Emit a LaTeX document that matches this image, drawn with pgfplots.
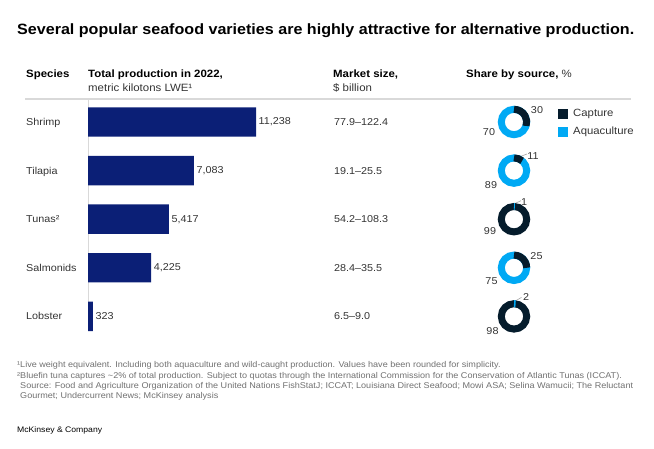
\documentclass[border=0pt]{standalone}
\usepackage{pgfplots}
\usepackage{pgfplotstable}
\pgfplotsset{compat=1.18}
\usepackage{fontspec}
\setmainfont{Liberation Sans}[FakeStretch=1.08]

\definecolor{navy}{HTML}{0B1F76}
\definecolor{capt}{HTML}{051C2C}
\definecolor{aqua}{HTML}{00A9F4}
\definecolor{txt}{HTML}{333333}
\definecolor{note}{HTML}{707070}

\pgfplotstableread{
row prod
0 11238
1 7083
2 5417
3 4225
4 323
}\prodtab

\pgfplotstableread{
row x   cap aqua
0   514 30  70
1   514 11  89
2   514 99  1
3   514 25  75
4   514 98  2
}\sharetab

% donut: ring in the colour of the larger share, arc from 12 o'clock for the smaller one
\pgfdeclareplotmark{donut}{%
  \pgfsetlinewidth{7pt}%
  \pgfsetbuttcap
  \ifdim\capv pt<50pt
    \def\ringcol{aqua}\def\segcol{capt}\let\segval\capv
  \else
    \def\ringcol{capt}\def\segcol{aqua}\let\segval\aquav
  \fi
  \pgfsetstrokecolor{\ringcol}%
  \pgfpathcircle{\pgfpointorigin}{12.7pt}%
  \pgfusepath{stroke}%
  \pgfmathsetmacro\endang{90-3.6*\segval}%
  \pgfsetstrokecolor{\segcol}%
  \pgfpathmoveto{\pgfpointpolar{90}{12.7pt}}%
  \pgfpatharc{90}{\endang}{12.7pt}%
  \pgfusepath{stroke}%
}

\newcommand{\hd}{\fontsize{10.6}{12}\selectfont}
\newcommand{\rw}{\fontsize{10}{12}\selectfont}

\begin{document}
\begin{tikzpicture}
\useasboundingbox (0pt,0pt) rectangle (654pt,-449pt);

% title and headers
\node[anchor=base west, inner sep=0pt] at (17pt,-35pt) {\fontsize{14.9}{17}\selectfont\bfseries Several popular seafood varieties are highly attractive for alternative production.};
\node[anchor=base west, inner sep=0pt] at (26pt,-78pt) {\hd\bfseries Species};
\node[anchor=base west, inner sep=0pt] at (88pt,-78pt) {\hd\bfseries Total production in 2022,};
\node[anchor=base west, inner sep=0pt, text=txt] at (88pt,-91.5pt) {\hd metric kilotons LWE¹};
\node[anchor=base west, inner sep=0pt] at (333pt,-78pt) {\hd\bfseries Market size,};
\node[anchor=base west, inner sep=0pt, text=txt] at (333pt,-91.5pt) {\hd \$ billion};
\node[anchor=base west, inner sep=0pt] at (466pt,-78pt) {\hd\bfseries Share by source, {\mdseries\color{txt}\%}};
\draw[black!15, line width=1.5pt] (25pt,-99pt) -- (631pt,-99pt);

% rows: species and market size
\foreach \yy/\sp/\ms in {122/Shrimp/77.9--122.4, 170.6/Tilapia/19.1--25.5, 219.2/Tunas²/54.2--108.3, 267.8/Salmonids/28.4--35.5, 316.4/Lobster/6.5--9.0}{
  \node[anchor=base west, inner sep=0pt, text=txt] at (26pt,-\yy pt-3.6pt) {\rw \sp};
  \node[anchor=base west, inner sep=0pt, text=txt] at (334pt,-\yy pt-3.6pt) {\rw \ms};
}

% bars
\begin{axis}[
  at={(88pt,-97.7pt)}, anchor=north west,
  x=0.0149493pt, y=48.6pt, y dir=reverse,
  xmin=0, xmax=12000, ymin=-0.5, ymax=4.5,
  enlargelimits=false,
  axis lines=none, clip=false,
  xbar, bar width=29.4pt,
  nodes near coords,
  nodes near coords style={font=\rw, anchor=west, inner sep=2.5pt, text=txt},
  /pgf/number format/1000 sep={,},
  /pgf/number format/assume math mode=true,
]
\draw[black!15, line width=1pt] (axis cs:0,-0.45) -- (axis cs:0,4.3);
\addplot[fill=navy, draw=none] table[x=prod, y=row] {\prodtab};
\end{axis}

% donuts
\begin{axis}[
  at={(400pt,-97.7pt)}, anchor=north west,
  x=1pt, y=48.6pt, y dir=reverse,
  xmin=400, xmax=654, ymin=-0.5, ymax=4.5,
  enlargelimits=false,
  axis lines=none, clip=false,
]
\addplot[only marks, mark=donut,
  visualization depends on={\thisrow{cap} \as \capv},
  visualization depends on={\thisrow{aqua} \as \aquav},
] table[x=x, y=row] {\sharetab};
% leader lines for thin segments
\draw[black!35, line width=0.6pt] (axis cs:519,1) ++(0pt,13.6pt) -- ++(8pt,3pt);
\draw[black!35, line width=0.6pt] (axis cs:515.5,2) ++(0pt,16pt) -- ++(5.5pt,2.5pt);
\draw[black!35, line width=0.6pt] (axis cs:515.5,4) ++(0pt,15.5pt) -- ++(6pt,3.5pt);
\tikzset{lab/.style={inner sep=0pt, text=txt, font=\rw}}
\node[lab] at (axis cs:537,0) [yshift=12pt] {30};
\node[lab] at (axis cs:489,0) [yshift=-10pt] {70};
\node[lab] at (axis cs:533,1) [yshift=14.6pt] {11};
\node[lab] at (axis cs:491,1) [yshift=-14.4pt] {89};
\node[lab] at (axis cs:524,2) [yshift=17pt] {1};
\node[lab] at (axis cs:490,2) [yshift=-12pt] {99};
\node[lab] at (axis cs:536.5,3) [yshift=12pt] {25};
\node[lab] at (axis cs:491.5,3) [yshift=-13pt] {75};
\node[lab] at (axis cs:526,4) [yshift=19.4pt] {2};
\node[lab] at (axis cs:492.5,4) [yshift=-14.6pt] {98};
\end{axis}

% legend
\fill[capt] (557.5pt,-109pt) rectangle (567.5pt,-119pt);
\node[anchor=west, inner sep=0pt, text=txt] at (573pt,-114pt) {\fontsize{10.5}{12}\selectfont Capture};
\fill[aqua] (557.5pt,-127pt) rectangle (567.5pt,-137pt);
\node[anchor=west, inner sep=0pt, text=txt] at (573pt,-132pt) {\fontsize{10.5}{12}\selectfont Aquaculture};

% footnotes
\begin{scope}[every node/.style={anchor=base west, inner sep=0pt, text=note, font=\fontsize{8.4}{10}\selectfont}]
\node at (17pt,-367.5pt) {¹Live weight equivalent. Including both aquaculture and wild-caught production. Values have been rounded for simplicity.};
\node at (17pt,-378pt) {²Bluefin tuna captures {\textasciitilde}2\% of total production. Subject to quotas through the International Commission for the Conservation of Atlantic Tunas (ICCAT).};
\node at (20pt,-388.5pt) {Source: Food and Agriculture Organization of the United Nations FishStatJ; ICCAT; Louisiana Direct Seafood; Mowi ASA; Selina Wamucii; The Reluctant};
\node at (20pt,-399pt) {Gourmet; Undercurrent News; McKinsey analysis};
\end{scope}
\node[anchor=base west, inner sep=0pt] at (17pt,-432pt) {\fontsize{8}{9}\selectfont McKinsey \& Company};
\end{tikzpicture}
\end{document}
